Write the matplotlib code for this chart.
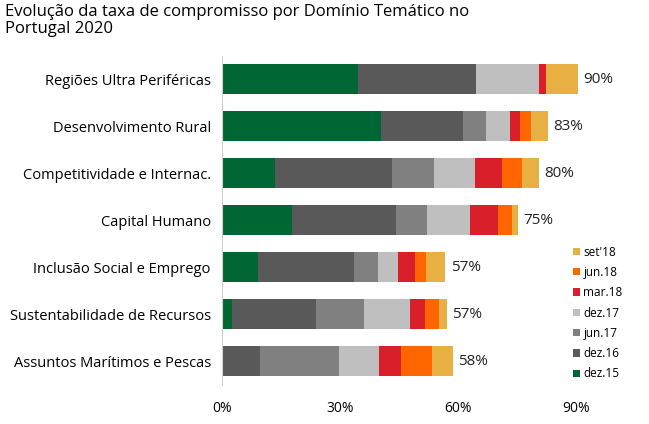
import matplotlib

matplotlib.use("Agg")
import matplotlib.pyplot as plt
import numpy as np
from matplotlib.ticker import FuncFormatter

plt.rcParams["font.family"] = ["Open Sans", "DejaVu Sans"]

# categories top -> bottom
categories = [
    "Regiões Ultra Periféricas",
    "Desenvolvimento Rural",
    "Competitividade e Internac.",
    "Capital Humano",
    "Inclusão Social e Emprego",
    "Sustentabilidade de Recursos",
    "Assuntos Marítimos e Pescas",
]
totals = ["90%", "83%", "80%", "75%", "57%", "57%", "58%"]

# increments per period (percentage points), in stacking order
periods = ["dez.15", "dez.16", "jun.17", "dez.17", "mar.18", "jun.18", "set'18"]
dez15 = [34.6, 40.4, 13.5, 17.9, 9.1, 2.6, 0.0]
dez16 = [29.8, 20.7, 29.6, 26.4, 24.3, 21.3, 9.6]
jun17 = [0.0, 5.9, 10.6, 7.8, 6.3, 12.1, 20.1]
dez17 = [16.1, 6.1, 10.6, 10.9, 5.1, 11.7, 10.1]
mar18 = [1.7, 2.5, 6.8, 7.1, 4.1, 3.8, 5.6]
jun18 = [0.0, 2.8, 5.0, 3.4, 2.9, 3.7, 8.0]
set18 = [8.1, 4.4, 4.3, 1.7, 4.9, 1.8, 5.2]

colors = ["#006633", "#595959", "#808080", "#bfbfbf", "#d9202a", "#ff6600", "#e8b042"]

series = [dez15, dez16, jun17, dez17, mar18, jun18, set18]

fig = plt.figure(figsize=(6.49, 4.24), dpi=100)
ax = fig.add_axes([0.342, 0.093, 0.607, 0.776])

y = np.arange(len(categories))
left = np.zeros(len(categories))
handles = []
for vals, c, lab in zip(series, colors, periods):
    vals = np.array(vals) / 100
    h = ax.barh(y, vals, left=left, height=0.62, color=c, label=lab)
    handles.append(h)
    left += vals

for yi, end, txt in zip(y, left, totals):
    ax.text(end + 0.014, yi, txt, va="center", ha="left", fontsize=11, color="#222222")

ax.set_yticks(y)
ax.set_yticklabels(categories, fontsize=10.5)
ax.set_ylim(len(categories) - 0.5, -0.5)
ax.set_xlim(0, 1.0)
ax.set_xticks([0, 0.3, 0.6, 0.9])
ax.xaxis.set_major_formatter(FuncFormatter(lambda v, p: f"{v*100:.0f}%"))
ax.tick_params(axis="both", length=0)
ax.tick_params(axis="x", pad=12, labelsize=10)
ax.tick_params(axis="y", pad=8)
for s in ("top", "right", "bottom"):
    ax.spines[s].set_visible(False)
ax.spines["left"].set_color("#d0d0d0")

fig.legend(handles[::-1], periods[::-1], loc="upper left",
           bbox_to_anchor=(0.876, 0.432), frameon=False, fontsize=8.5,
           handlelength=0.55, handleheight=0.55, handletextpad=0.3,
           labelspacing=0.62, borderaxespad=0)

fig.text(0.008, 0.99, "Evolução da taxa de compromisso por Domínio Temático no\nPortugal 2020",
         ha="left", va="top", fontsize=12, linespacing=1.1)

fig.savefig("out.png", dpi=100)
